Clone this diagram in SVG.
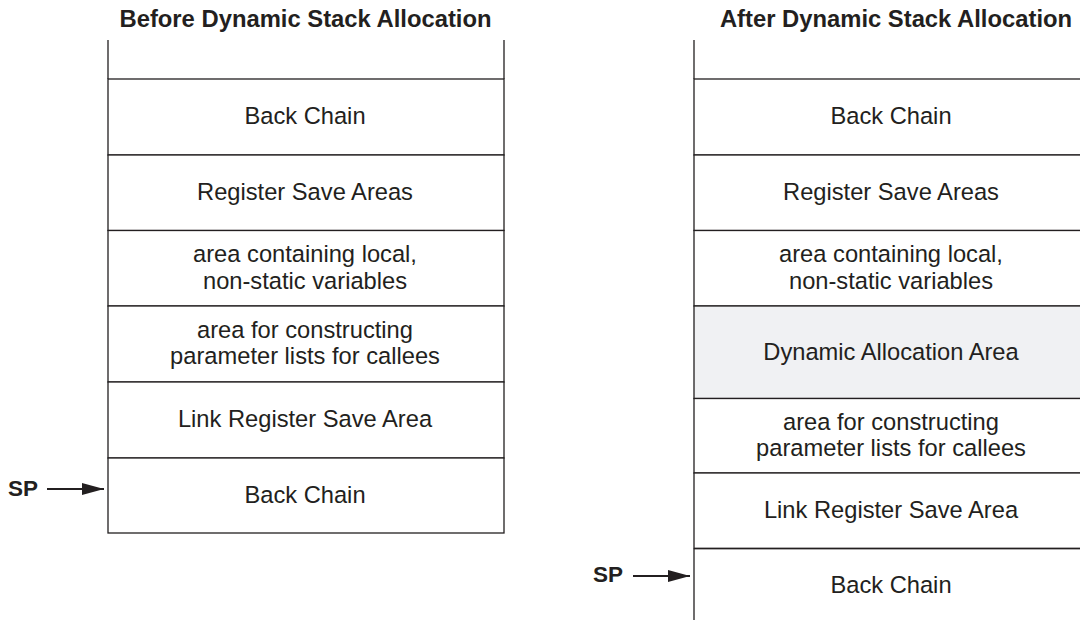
<svg xmlns="http://www.w3.org/2000/svg" width="1080" height="620" viewBox="0 0 1080 620">
<style>
text{font-family:"Liberation Sans",Arial,Helvetica,sans-serif;fill:#231f20}
.t{font-size:23.8px;font-weight:bold;text-anchor:middle}
.b{font-size:23.7px;text-anchor:middle}
.sp{font-size:22.5px;font-weight:bold}
.box{fill:#ffffff;stroke:#231f20;stroke-width:1.3}
.dyn{fill:#f0f1f3;stroke:#231f20;stroke-width:1.3}
.edge{fill:none;stroke:#231f20;stroke-width:1.3}
.arrow{stroke:#231f20;stroke-width:1.8;fill:none;marker-end:url(#ah)}
</style>
<defs>
<marker id="ah" viewBox="0 0 22 12" refX="22" refY="6" markerWidth="22" markerHeight="12" markerUnits="userSpaceOnUse" orient="auto">
<path d="M0,0 L22,6 L0,12 Z" fill="#231f20"/>
</marker>
</defs>
<rect width="1080" height="620" fill="#ffffff"/>
<text class="t" x="305.5" y="27">Before Dynamic Stack Allocation</text>
<text class="t" x="896" y="27">After Dynamic Stack Allocation</text>

<g id="left-stack">
<path class="edge" d="M108,40 V79 M504,40 V79"/>
<g id="l-backchain-top"><rect class="box" x="108" y="79" width="396" height="76"/><text class="b" x="305" y="124">Back Chain</text></g>
<g id="l-regsave"><rect class="box" x="108" y="155" width="396" height="75.5"/><text class="b" x="305" y="200">Register Save Areas</text></g>
<g id="l-local"><rect class="box" x="108" y="230.5" width="396" height="75.5"/><text class="b" x="305" y="262">area containing local,</text><text class="b" x="305" y="288.5">non-static variables</text></g>
<g id="l-params"><rect class="box" x="108" y="306" width="396" height="76"/><text class="b" x="305" y="337.5">area for constructing</text><text class="b" x="305" y="364">parameter lists for callees</text></g>
<g id="l-linkreg"><rect class="box" x="108" y="382" width="396" height="76"/><text class="b" x="305" y="427">Link Register Save Area</text></g>
<g id="l-backchain"><rect class="box" x="108" y="458" width="396" height="75"/><text class="b" x="305" y="503">Back Chain</text></g>
</g>

<g id="right-stack">
<path class="edge" d="M694,40 V79"/>
<g id="r-backchain-top"><rect class="box" x="694" y="79" width="400" height="76"/><text class="b" x="891" y="124">Back Chain</text></g>
<g id="r-regsave"><rect class="box" x="694" y="155" width="400" height="75.5"/><text class="b" x="891" y="200">Register Save Areas</text></g>
<g id="r-local"><rect class="box" x="694" y="230.5" width="400" height="75.5"/><text class="b" x="891" y="262">area containing local,</text><text class="b" x="891" y="288.5">non-static variables</text></g>
<g id="r-dynamic"><rect class="dyn" x="694" y="306" width="400" height="92.5"/><text class="b" x="891" y="360">Dynamic Allocation Area</text></g>
<g id="r-params"><rect class="box" x="694" y="398.5" width="400" height="74.5"/><text class="b" x="891" y="429.5">area for constructing</text><text class="b" x="891" y="456">parameter lists for callees</text></g>
<g id="r-linkreg"><rect class="box" x="694" y="473" width="400" height="75.5"/><text class="b" x="891" y="518">Link Register Save Area</text></g>
<g id="r-backchain"><path class="edge" d="M694,548.5 V621 M694,548.5 H1081"/><text class="b" x="891" y="593">Back Chain</text></g>
</g>

<g id="sp-left"><text class="sp" x="8" y="496">SP</text></g>
<g id="sp-right"><text class="sp" x="593" y="582">SP</text></g>

<g id="connectors">
<line class="arrow" x1="47" y1="489" x2="104" y2="489"/>
<line class="arrow" x1="633" y1="576" x2="690" y2="576"/>
</g>
</svg>
